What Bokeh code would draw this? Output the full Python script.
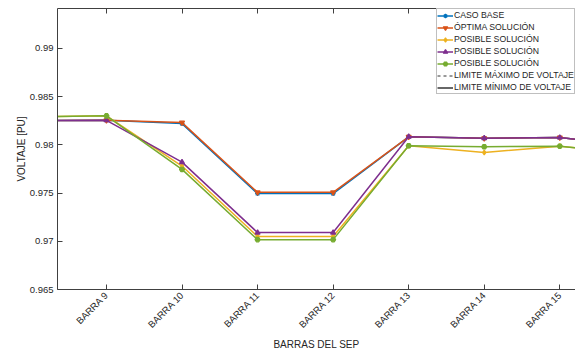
import math
from bokeh.plotting import figure
from bokeh.models import Range1d, FixedTicker, LinearAxis, Legend, LegendItem, Title
from bokeh.embed import file_html
from bokeh.resources import INLINE

# ---------------- data ----------------
barras = ["BARRA 8", "BARRA 9", "BARRA 10", "BARRA 11", "BARRA 12",
          "BARRA 13", "BARRA 14", "BARRA 15", "BARRA 16"]
x_pos = [8, 9, 10, 11, 12, 13, 14, 15, 16]

caso_base = [0.9825, 0.98254, 0.9822, 0.97494, 0.97494, 0.98083, 0.98068, 0.98075, 0.9799]
optima_sol = [0.9825, 0.98254, 0.9823, 0.97507, 0.97507, 0.98083, 0.98068, 0.98075, 0.9799]
posible_1 = [0.9829, 0.9830, 0.9778, 0.9705, 0.9705, 0.9799, 0.9792, 0.97986, 0.9791]
posible_2 = [0.9825, 0.98254, 0.9782, 0.9709, 0.9709, 0.98083, 0.98068, 0.98075, 0.9799]
posible_3 = [0.9829, 0.9830, 0.97745, 0.97017, 0.97017, 0.9799, 0.97979, 0.97986, 0.9791]
lim_max = [1.05, 1.05, 1.05, 1.05, 1.05, 1.05, 1.05, 1.05, 1.05]
lim_min = [0.95, 0.95, 0.95, 0.95, 0.95, 0.95, 0.95, 0.95, 0.95]

y_ticks = [0.965, 0.97, 0.975, 0.98, 0.985, 0.99]
y_tick_labels = ["0.965", "0.97", "0.975", "0.98", "0.985", "0.99"]

series_names = ["CASO BASE", "ÓPTIMA SOLUCIÓN", "POSIBLE SOLUCIÓN",
                "POSIBLE SOLUCIÓN", "POSIBLE SOLUCIÓN"]
limit_names = ["LIMITE MÁXIMO DE VOLTAJE", "LIMITE MÍNIMO DE VOLTAJE"]
x_title = "BARRAS DEL SEP"
y_title = "VOLTAJE [PU]"

# ---------------- style ----------------
FONT = "Liberation Sans"
TXT = "#262626"
AX = "#404040"
colors = ["#0072BD", "#D95319", "#EDB120", "#7E2F8E", "#77AC30"]
markers = ["asterisk", "inverted_triangle", "diamond", "triangle", "hex"]

p = figure(width=575, height=349, output_backend="svg", toolbar_location=None,
           x_range=Range1d(8.352, 15.208), y_range=Range1d(0.965, 0.99413),
           min_border_left=57, min_border_right=0, min_border_top=8,
           min_border_bottom=59, background_fill_color="white",
           border_fill_color="white")
p.outline_line_color = None
p.grid.visible = False

items = []
for vals, col, mk, name in zip([caso_base, optima_sol, posible_1, posible_2, posible_3],
                               colors, markers, series_names):
    r1 = p.line(x_pos, vals, line_color=col, line_width=1.5)
    r2 = p.scatter(x_pos, vals, marker=mk, size=5, line_color=col,
                   fill_color=col, line_width=1.2)
    items.append(LegendItem(label=name, renderers=[r1, r2]))

rmax = p.line(x_pos, lim_max, line_color="#333333", line_width=1, line_dash="3 3")
rmin = p.line(x_pos, lim_min, line_color="black", line_width=1.2)
items.append(LegendItem(label=limit_names[0], renderers=[rmax]))
items.append(LegendItem(label=limit_names[1], renderers=[rmin]))

legend = Legend(items=items, location=(379, 195), padding=0, spacing=0,
                margin=0, glyph_width=16, glyph_height=11, label_height=12,
                label_standoff=1, label_text_font=FONT,
                label_text_font_size="8.7px", label_text_color=TXT,
                border_line_color="#7f7f7f", border_line_width=1,
                background_fill_alpha=1.0)
p.add_layout(legend, "center")

# x axis (bottom)
xa = p.xaxis[0]
xa.ticker = FixedTicker(ticks=x_pos)
xa.major_label_overrides = {x: b for x, b in zip(x_pos, barras)}
xa.major_label_orientation = math.pi / 4

# y axis (left)
ya = p.yaxis[0]
ya.ticker = FixedTicker(ticks=y_ticks)
ya.major_label_overrides = {t: s for t, s in zip(y_ticks, y_tick_labels)}
ya.axis_label = y_title

for ax in (xa, ya):
    ax.major_tick_in = 5
    ax.major_tick_out = 0
    ax.minor_tick_line_color = None
    ax.axis_line_color = AX
    ax.major_tick_line_color = AX
    ax.major_label_text_font = FONT
    ax.major_label_text_font_size = "9.5px"
    ax.major_label_text_color = TXT
    ax.axis_label_text_font = FONT
    ax.axis_label_text_font_size = "10px"
    ax.axis_label_text_font_style = "normal"
    ax.axis_label_text_color = TXT
xa.major_label_standoff = 4
ya.major_label_standoff = 4
ya.axis_label_standoff = 0

# x-axis title below the tick labels
p.add_layout(Title(text=x_title, align="center", text_font=FONT,
                   text_font_size="10px", text_font_style="normal",
                   text_color=TXT, standoff=0, offset=0), "below")

top = LinearAxis(ticker=FixedTicker(ticks=x_pos),
                 major_label_overrides={x: "" for x in x_pos},
                 major_label_text_font_size="1px", major_label_text_color=None,
                 major_tick_in=5, major_tick_out=0, minor_tick_line_color=None,
                 axis_line_color=AX, major_tick_line_color=AX,
                 major_label_standoff=0)
p.add_layout(top, "above")

open("out.html", "w").write(file_html(p, INLINE))
